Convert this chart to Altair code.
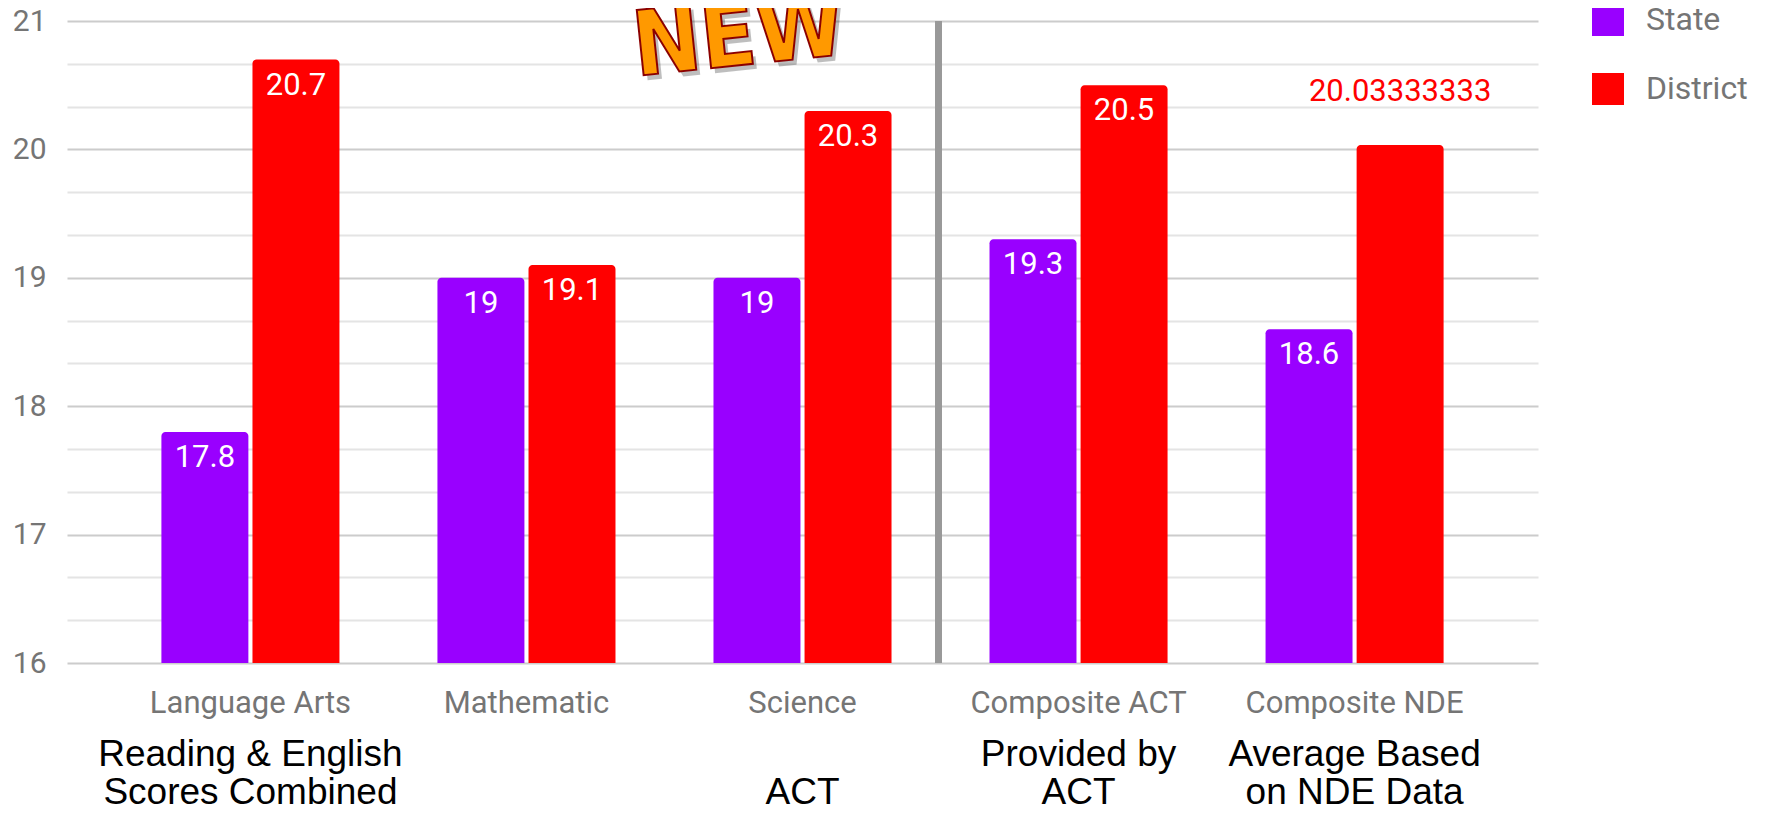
import altair as alt
import pandas as pd

categories = ["Language Arts", "Mathematic", "Science", "Composite ACT", "Composite NDE"]
state_scores = [17.8, 19, 19, 19.3, 18.6]
district_scores = [20.7, 19.1, 20.3, 20.5, 20.03333333]
note_line1 = ["Reading & English", "", "", "Provided by", "Average Based"]
note_line2 = ["Scores Combined", "", "ACT", "ACT", "on NDE Data"]
series_names = ["State", "District"]
series_colors = ["#9900ff", "#ff0000"]
y_ticks = [16, 16.3333, 16.6667, 17, 17.3333, 17.6667, 18, 18.3333, 18.6667,
           19, 19.3333, 19.6667, 20, 20.3333, 20.6667, 21]

rows = []
for i, c in enumerate(categories):
    rows.append({"category": c, "series": "State", "value": state_scores[i]})
    rows.append({"category": c, "series": "District", "value": district_scores[i]})
df = pd.DataFrame(rows)
df["label"] = df["value"].map(lambda v: "%.10g" % v)
df["inside"] = df["label"].str.len() <= 4

notes = pd.DataFrame({"category": categories, "line1": note_line1, "line2": note_line2})

W, H = 1471, 642

x_enc = alt.X(
    "category:N", sort=categories,
    scale=alt.Scale(domain=categories, paddingInner=0.355, paddingOuter=0.342),
    axis=alt.Axis(title=None, labelFont="Roboto", labelFontSize=31, labelColor="#757575",
                  labelPadding=25, ticks=False, domain=False, labelAngle=0, labelLimit=0),
)
y_enc = alt.Y(
    "value:Q",
    scale=alt.Scale(domain=[16, 21], nice=False, zero=False),
    axis=alt.Axis(
        title=None, values=y_ticks,
        labelExpr="abs(datum.value - round(datum.value)) < 0.01 ? format(round(datum.value), 'd') : ''",
        labelFont="Roboto", labelFontSize=30, labelColor="#757575", labelPadding=21,
        ticks=False, domain=False, grid=True, gridWidth=2, labelOverlap=False,
        gridColor=alt.condition("abs(datum.value - round(datum.value)) < 0.01",
                                alt.value("#cccccc"), alt.value("#e4e4e4")),
    ),
)
xoff = alt.XOffset("series:N", sort=series_names,
                   scale=alt.Scale(domain=series_names, paddingInner=0.045))

bars = alt.Chart(df).mark_bar(cornerRadiusTopLeft=4, cornerRadiusTopRight=4).encode(
    x=x_enc, xOffset=xoff, y=y_enc, y2=alt.datum(16),
    color=alt.Color("series:N", sort=series_names,
                    scale=alt.Scale(domain=series_names, range=series_colors),
                    legend=alt.Legend(title=None, orient="none", legendX=1525, legendY=-17,
                                      symbolType="square", symbolSize=1024, symbolStrokeWidth=0,
                                      symbolOpacity=1, labelFont="Roboto", labelFontSize=32,
                                      labelColor="#757575", labelOffset=22, rowPadding=37,
                                      padding=0)),
)

inside_labels = alt.Chart(df).transform_filter("datum.inside").mark_text(
    baseline="middle", dy=26, color="white", font="Roboto", fontSize=31
).encode(x=x_enc, xOffset=xoff, y=y_enc, text="label:N")

outside_labels = alt.Chart(df).transform_filter("!datum.inside").mark_text(
    baseline="middle", dy=-53, color=series_colors[1], font="Roboto", fontSize=31
).encode(x=x_enc, xOffset=xoff, y=y_enc, text="label:N")

sep = alt.Chart(pd.DataFrame({"sep": ["Science"]})).mark_rule(
    xOffset=136, strokeWidth=7, color="#999999"
).encode(x=alt.X("sep:N"), y=alt.datum(21), y2=alt.datum(16))

note1 = alt.Chart(notes).mark_text(
    font="Liberation Sans", fontSize=37, color="black", baseline="middle"
).encode(x=alt.X("category:N", sort=categories), y=alt.value(H + 92), text="line1:N")
note2 = alt.Chart(notes).mark_text(
    font="Liberation Sans", fontSize=37, color="black", baseline="middle"
).encode(x=alt.X("category:N", sort=categories), y=alt.value(H + 130), text="line2:N")

new_df = pd.DataFrame({"t": ["NEW"]})
new_font = "Liberation Sans Narrow, DejaVu Sans Condensed, sans-serif"
new_shadow = alt.Chart(new_df).mark_text(
    font=new_font, fontWeight="bold", fontSize=90, color="#000000", opacity=0.25,
    angle=354, align="center", baseline="alphabetic"
).encode(x=alt.value(675 + 4), y=alt.value(44 + 5), text="t:N")
new_text = alt.Chart(new_df).mark_text(
    font=new_font, fontWeight="bold", fontSize=90, color="#ff9900", stroke="#8b0000",
    strokeWidth=2, angle=354, align="center", baseline="alphabetic"
).encode(x=alt.value(675), y=alt.value(44), text="t:N")

chart = alt.layer(
    bars, inside_labels, outside_labels, sep, note1, note2, new_shadow, new_text
).properties(
    width=W, height=H,
    autosize=alt.AutoSizeParams(type="none"),
    padding={"left": 59, "top": 13, "right": 226, "bottom": 152},
).configure_view(stroke=None)

chart.save("out.html", embed_options={"renderer": "svg", "actions": False})
